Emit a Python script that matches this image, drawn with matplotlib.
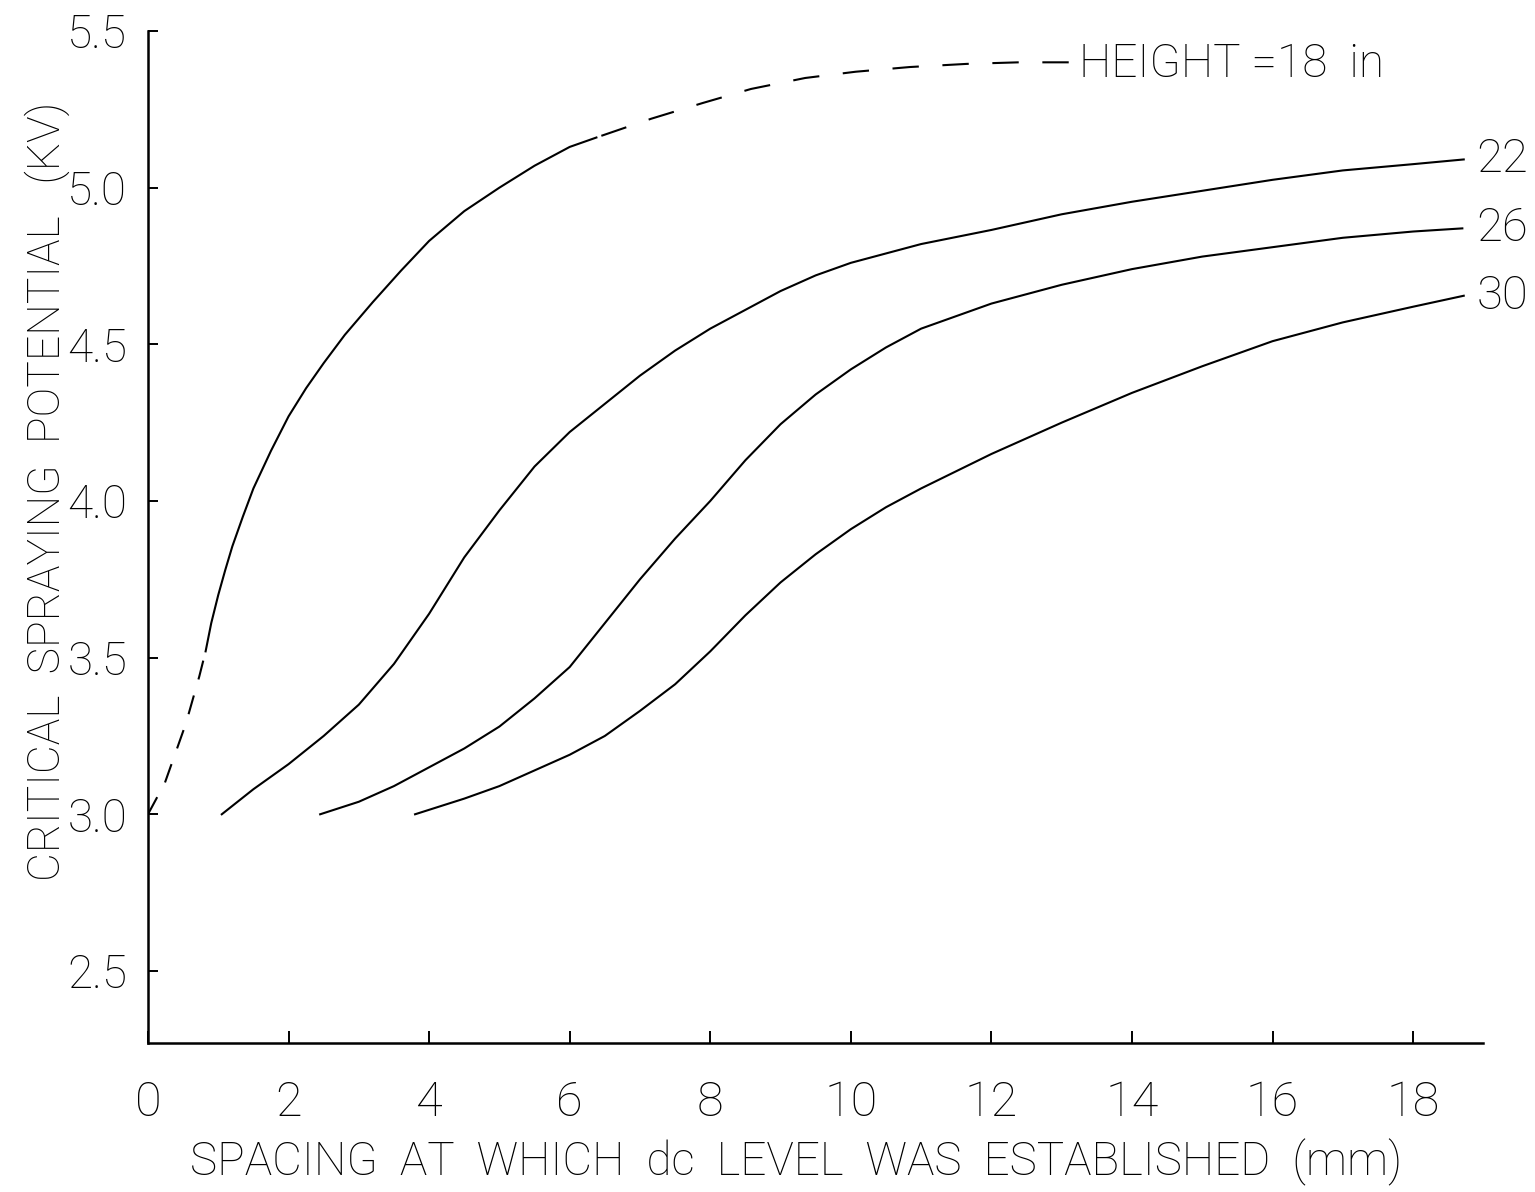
import matplotlib
matplotlib.use('Agg')
import matplotlib.pyplot as plt

plt.rcParams['font.family'] = ['Roboto', 'Liberation Sans', 'DejaVu Sans']
plt.rcParams['font.weight'] = 'light'
plt.rcParams['axes.labelweight'] = 'light'
plt.rcParams['lines.scale_dashes'] = False

# height = 18 in: dashed start, solid middle, dashed tail
x18_lo = [0.0, 0.24, 0.54, 0.73, 0.82]
y18_lo = [3.0, 3.10, 3.29, 3.44, 3.52]
x18 = [0.82, 0.9, 1.0, 1.1, 1.2, 1.35, 1.5, 1.75, 2.0, 2.25, 2.5, 2.8, 3.2, 3.6,
       4.0, 4.5, 5.0, 5.5, 6.0, 6.38]
y18 = [3.52, 3.61, 3.70, 3.78, 3.855, 3.95, 4.04, 4.16, 4.27, 4.36, 4.44, 4.53, 4.635, 4.735,
       4.83, 4.925, 5.0, 5.07, 5.13, 5.16]
x18_hi = [6.38, 7.16, 7.89, 8.58, 9.35, 10.07, 10.84, 11.65, 12.39, 13.1]
y18_hi = [5.16, 5.22, 5.27, 5.315, 5.35, 5.37, 5.385, 5.395, 5.40, 5.40]

x22 = [1.05, 1.5, 2.0, 2.5, 3.0, 3.5, 4.0, 4.5, 5.0, 5.5, 6.0, 6.5, 7.0, 7.5, 8.0,
       8.5, 9.0, 9.5, 10.0, 11.0, 12.0, 13.0, 14.0, 15.0, 16.0, 17.0, 18.0, 18.72]
y22 = [3.0, 3.08, 3.16, 3.25, 3.35, 3.48, 3.64, 3.82, 3.97, 4.11, 4.22, 4.31, 4.40, 4.48, 4.55,
       4.61, 4.67, 4.72, 4.76, 4.82, 4.865, 4.915, 4.955, 4.99, 5.025, 5.055, 5.075, 5.09]

x26 = [2.45, 3.0, 3.5, 4.0, 4.5, 5.0, 5.5, 6.0, 6.5, 7.0, 7.5, 8.0, 8.5, 9.0, 9.5,
       10.0, 10.5, 11.0, 12.0, 13.0, 14.0, 15.0, 16.0, 17.0, 18.0, 18.7]
y26 = [3.0, 3.04, 3.09, 3.15, 3.21, 3.28, 3.37, 3.47, 3.61, 3.75, 3.88, 4.00, 4.13, 4.245, 4.34,
       4.42, 4.49, 4.55, 4.63, 4.69, 4.74, 4.78, 4.81, 4.84, 4.86, 4.87]

x30 = [3.8, 4.5, 5.0, 5.5, 6.0, 6.5, 7.0, 7.5, 8.0, 8.5, 9.0, 9.5, 10.0, 10.5, 11.0,
       11.5, 12.0, 13.0, 14.0, 15.0, 16.0, 17.0, 18.0, 18.72]
y30 = [3.0, 3.05, 3.09, 3.14, 3.19, 3.25, 3.33, 3.415, 3.52, 3.635, 3.74, 3.83, 3.91, 3.98, 4.04,
       4.095, 4.15, 4.25, 4.345, 4.43, 4.51, 4.57, 4.62, 4.655]

xticks = [0, 2, 4, 6, 8, 10, 12, 14, 16, 18]
yticks = [2.5, 3.0, 3.5, 4.0, 4.5, 5.0, 5.5]

fig = plt.figure(figsize=(15.35, 11.92), dpi=100)
ax = fig.add_axes([0.0964, 0.125, 0.870, 0.849])

lw = 1.5
ax.plot(x18_lo, y18_lo, color='black', lw=lw, linestyle=(0, (14, 12)))
ax.plot(x18, y18, color='black', lw=lw)
# drawn from the label end so a whole dash meets the text
ax.plot(x18_hi[::-1], y18_hi[::-1], color='black', lw=lw, linestyle=(0, (19, 17)))
ax.plot(x22, y22, color='black', lw=lw)
ax.plot(x26, y26, color='black', lw=lw)
ax.plot(x30, y30, color='black', lw=lw)

ax.text(13.25, 5.395, 'HEIGHT =18  in', fontsize=33, va='center', ha='left')
ax.text(18.9, y22[-1], '22', fontsize=34, va='center', ha='left', clip_on=False)
ax.text(18.9, y26[-1], '26', fontsize=34, va='center', ha='left', clip_on=False)
ax.text(18.9, y30[-1], '30', fontsize=34, va='center', ha='left', clip_on=False)

ax.set_xlim(0, 19)
ax.set_ylim(2.27, 5.5)
ax.set_xticks(xticks)
ax.set_yticks(yticks)
ax.set_yticklabels(['%.1f' % v for v in yticks])

for s in ['top', 'right']:
    ax.spines[s].set_visible(False)
for s in ['left', 'bottom']:
    ax.spines[s].set_linewidth(1.8)

ax.tick_params(axis='x', direction='in', length=9, width=1.4, labelsize=35, pad=26)
ax.tick_params(axis='y', direction='in', length=7, width=1.4, labelsize=33, pad=15)

ax.set_xlabel('SPACING  AT  WHICH  dc  LEVEL  WAS  ESTABLISHED  (mm)', fontsize=33, va='center')
ax.xaxis.set_label_coords(0.485, -0.118)
ax.set_ylabel('CRITICAL  SPRAYING  POTENTIAL   (KV)', fontsize=32, va='center')
ax.yaxis.set_label_coords(-0.0755, 0.545)

fig.savefig('out.png', dpi=100, facecolor='white')
